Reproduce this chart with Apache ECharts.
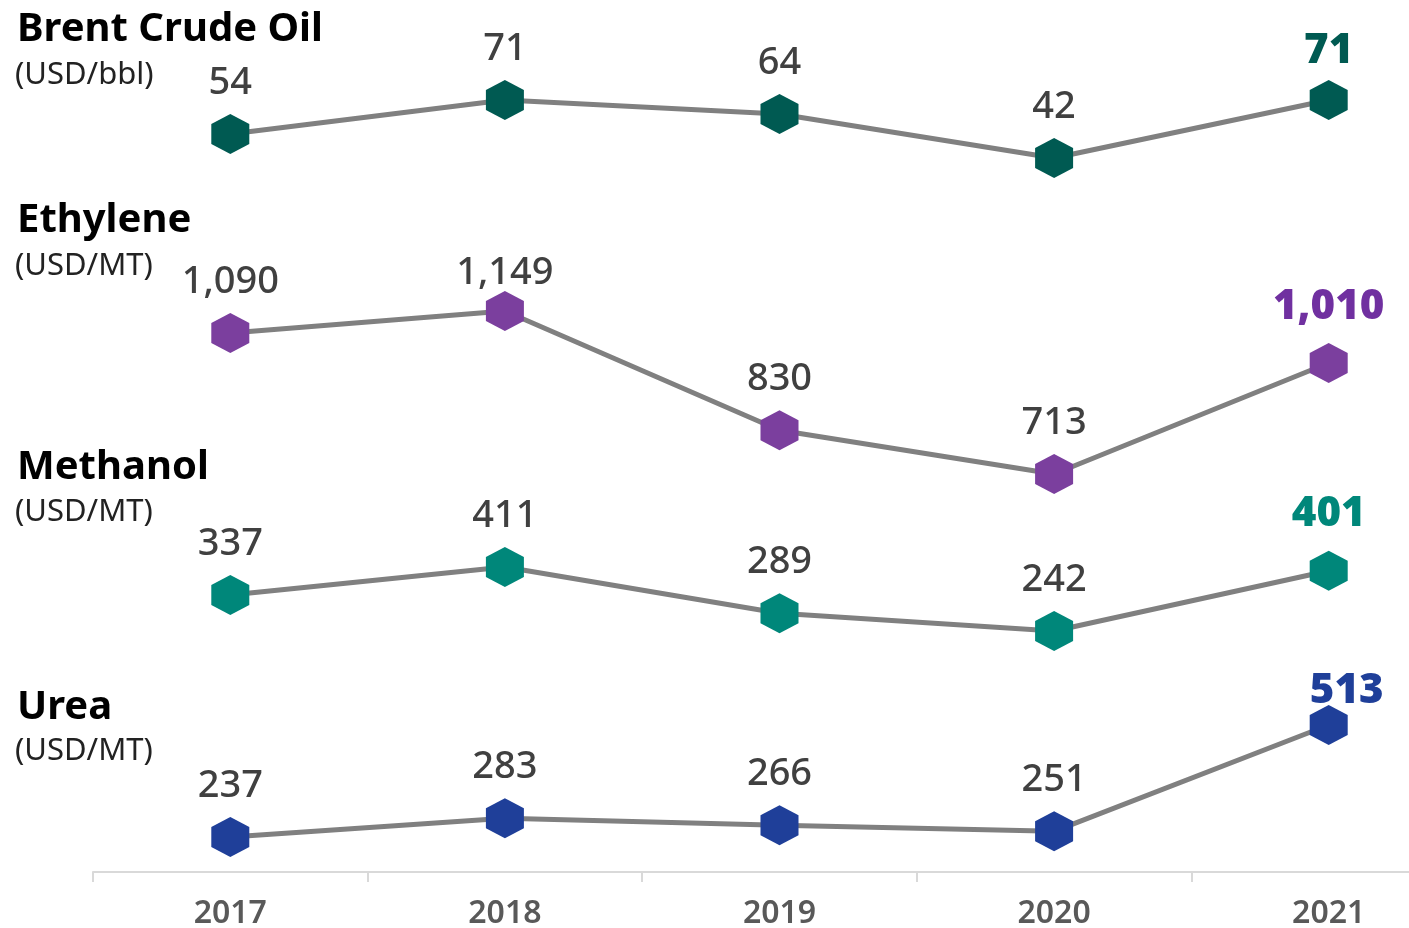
<!DOCTYPE html>
<html>
<head>
<meta charset="utf-8">
<script src="https://cdn.jsdelivr.net/npm/echarts@6/dist/echarts.min.js"></script>
<style>
html, body { margin: 0; padding: 0; background: #fff; }
#main { width: 1409px; height: 928px; }
</style>
</head>
<body>
<div id="main"></div>
<script>
// data
var years = ['2017', '2018', '2019', '2020', '2021'];
var brent = [54, 71, 64, 42, 71];
var ethylene = [1090, 1149, 830, 713, 1010];
var methanol = [337, 411, 289, 242, 401];
var urea = [237, 283, 266, 251, 513];
var names = ['Brent Crude Oil', 'Ethylene', 'Methanol', 'Urea'];
var units = ['(USD/bbl)', '(USD/MT)', '(USD/MT)', '(USD/MT)'];

var FONT = '"Noto Sans", "Open Sans", sans-serif';
var HEX = 'path://M50,0 L93.3,25 L93.3,75 L50,100 L6.7,75 L6.7,25 Z';

// one panel per product: grid box, y range, colours, title position
var panels = [
    { data: brent, top: 42, height: 200, min: 0, max: 100, color: '#005a52', hi: '#005a52', titleY: 27, subY: 72,
      nudge: { 4: [0, -49] } },
    { data: ethylene, top: 291.9, height: 224.4, min: 600, max: 1200, color: '#7b3f9e', hi: '#7030a0', titleY: 218, subY: 263,
      nudge: { 1: [0, -38], 4: [0, -56] } },
    { data: methanol, top: 552.2, height: 94.7, min: 200, max: 450, color: '#00877a', hi: '#00877a', titleY: 465, subY: 509,
      nudge: { 4: [0, -57] } },
    { data: urea, top: 710, height: 142, min: 200, max: 550, color: '#1f3f99', hi: '#1f3f99', titleY: 705, subY: 748,
      nudge: { 4: [18, -34] } }
];

var grids = [], xAxes = [], yAxes = [], series = [], graphics = [];

panels.forEach(function (p, i) {
    var last = i === panels.length - 1;
    // the plot runs past the right edge, the 2021 band is cut off
    grids.push({ left: 93, width: 1373, top: p.top, height: p.height, outerBoundsMode: 'none', containLabel: false });
    xAxes.push({
        type: 'category',
        gridIndex: i,
        data: years,
        show: last,
        offset: last ? 20 : 0,
        axisLine: { show: true, lineStyle: { color: '#d9d9d9', width: 2 } },
        axisTick: { show: true, length: 10, lineStyle: { color: '#d9d9d9', width: 2 } },
        axisLabel: { color: '#595959', fontSize: 32, fontWeight: 600, fontFamily: FONT, margin: 26 }
    });
    yAxes.push({ type: 'value', gridIndex: i, min: p.min, max: p.max, show: false });

    var items = p.data.map(function (v, k) {
        var lab = { offset: p.nudge[k] || [0, -51] };
        if (k === p.data.length - 1) {
            lab.color = p.hi;
            lab.fontWeight = 900;
            lab.fontSize = 42;
        }
        return { value: v, label: lab };
    });

    series.push({
        type: 'line',
        xAxisIndex: i,
        yAxisIndex: i,
        data: items,
        symbol: HEX,
        symbolSize: [38, 40],
        showAllSymbol: true,
        itemStyle: { color: p.color, borderWidth: 0 },
        lineStyle: { color: '#808080', width: 5 },
        emphasis: { disabled: true },
        label: {
            show: true,
            position: 'inside',
            color: '#404040',
            fontSize: 38,
            fontWeight: 500,
            fontFamily: FONT,
            formatter: function (d) { return d.value.toLocaleString('en-US'); }
        },
        animation: false
    });

    graphics.push({
        type: 'text', left: 17, top: p.titleY - 17,
        style: { text: names[i], font: 'bold 40px ' + FONT, fill: '#000' }
    });
    graphics.push({
        type: 'text', left: 15, top: p.subY - 12,
        style: { text: units[i], font: '31px ' + FONT, fill: '#222' }
    });
});

var chart = echarts.init(document.getElementById('main'));
chart.setOption({
    backgroundColor: '#fff',
    grid: grids,
    xAxis: xAxes,
    yAxis: yAxes,
    series: series,
    graphic: graphics
});
</script>
</body>
</html>
